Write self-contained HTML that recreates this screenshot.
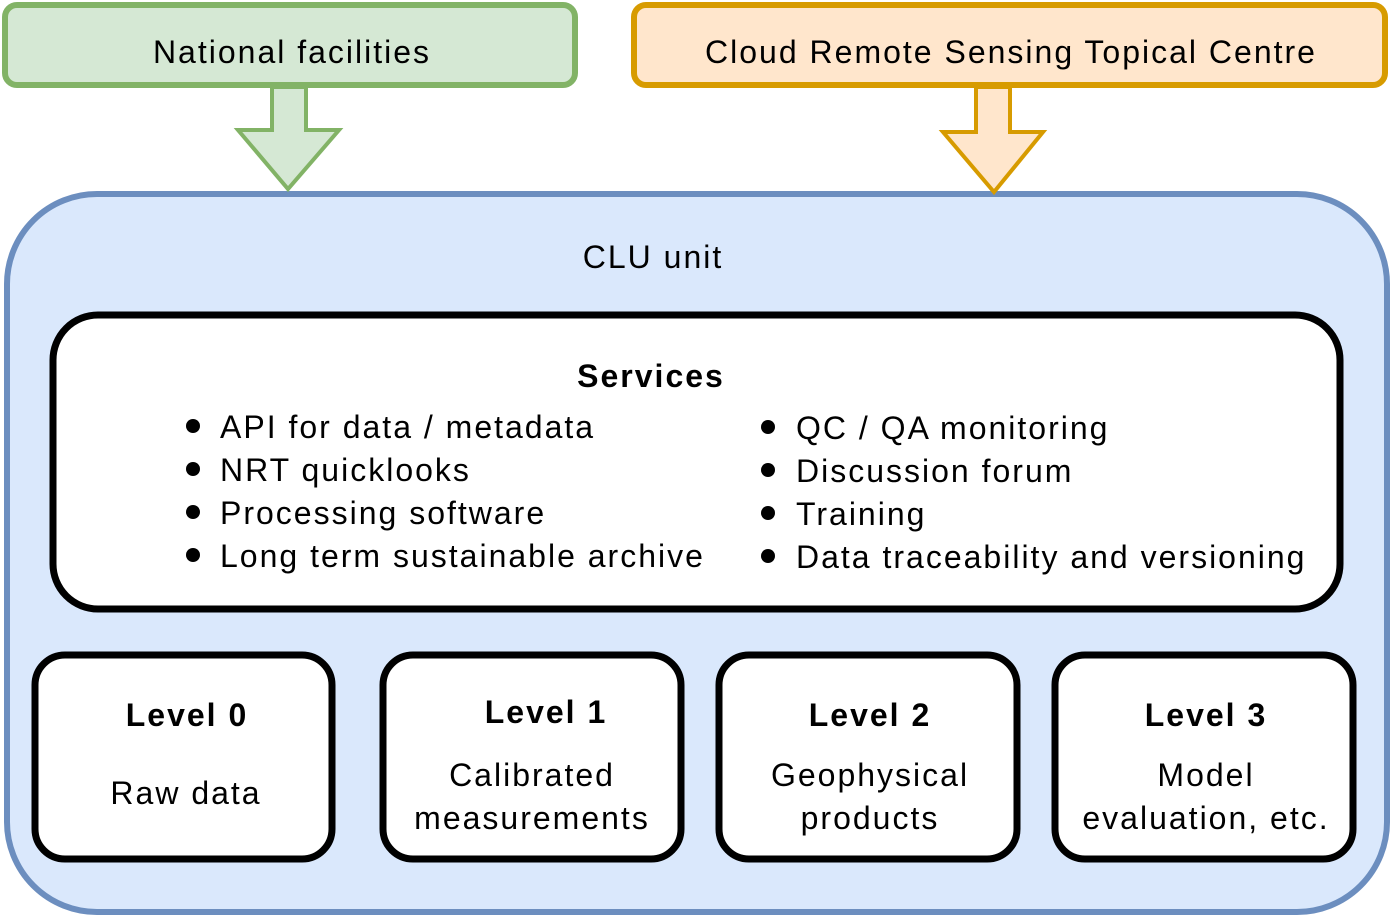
<!DOCTYPE html>
<html><head><meta charset="utf-8"><style>
html,body{margin:0;padding:0;background:#fff;}
svg{display:block;}
text{font-family:"Liberation Sans",Arial,sans-serif;font-size:32px;fill:#000;letter-spacing:2px;}
.b{font-weight:bold;}
</style></head><body>
<svg width="1392" height="918" viewBox="0 0 1392 918" xmlns="http://www.w3.org/2000/svg">
<rect x="5" y="5" width="570" height="80" rx="12" fill="#d5e8d4" stroke="#82b366" stroke-width="6"/>
<text x="292" y="63" text-anchor="middle">National facilities</text>
<rect x="634" y="5" width="751" height="80" rx="12" fill="#ffe6cc" stroke="#d79b00" stroke-width="6"/>
<text x="1011" y="63" text-anchor="middle">Cloud Remote Sensing Topical Centre</text>
<rect x="7" y="194" width="1380" height="718" rx="90" fill="#dae8fc" stroke="#6c8ebf" stroke-width="6"/>
<polygon points="272,87 306,87 306,130 339,130 288,189 238,130 272,130" fill="#d5e8d4" stroke="#82b366" stroke-width="4" stroke-linejoin="miter"/>
<polygon points="976,87 1010,87 1010,132 1043,132 994,192 943,132 976,132" fill="#ffe6cc" stroke="#d79b00" stroke-width="4"/>
<text x="653" y="268" text-anchor="middle">CLU unit</text>
<rect x="53" y="315" width="1287" height="294" rx="45" fill="#fff" stroke="#000" stroke-width="7"/>
<text x="651" y="387" text-anchor="middle" class="b">Services</text>
<g>
<circle cx="193" cy="426" r="7"/><text x="220" y="438">API for data / metadata</text>
<circle cx="193" cy="469" r="7"/><text x="220" y="481">NRT quicklooks</text>
<circle cx="193" cy="512" r="7"/><text x="220" y="524">Processing software</text>
<circle cx="193" cy="555" r="7"/><text x="220" y="567">Long term sustainable archive</text>
<circle cx="768" cy="427" r="7"/><text x="796" y="439">QC / QA monitoring</text>
<circle cx="768" cy="470" r="7"/><text x="796" y="482">Discussion forum</text>
<circle cx="768" cy="513" r="7"/><text x="796" y="525">Training</text>
<circle cx="768" cy="556" r="7"/><text x="796" y="568">Data traceability and versioning</text>
</g>
<rect x="35" y="655" width="297" height="204" rx="30" fill="#fff" stroke="#000" stroke-width="7"/>
<text x="187" y="726" text-anchor="middle" class="b">Level 0</text>
<text x="186" y="804" text-anchor="middle">Raw data</text>
<rect x="383" y="655" width="298" height="204" rx="30" fill="#fff" stroke="#000" stroke-width="7"/>
<text x="546" y="723" text-anchor="middle" class="b">Level 1</text>
<text x="532" y="786" text-anchor="middle">Calibrated</text>
<text x="532" y="829" text-anchor="middle">measurements</text>
<rect x="719" y="655" width="298" height="204" rx="30" fill="#fff" stroke="#000" stroke-width="7"/>
<text x="870" y="726" text-anchor="middle" class="b">Level 2</text>
<text x="870" y="786" text-anchor="middle">Geophysical</text>
<text x="870" y="829" text-anchor="middle">products</text>
<rect x="1055" y="655" width="298" height="204" rx="30" fill="#fff" stroke="#000" stroke-width="7"/>
<text x="1206" y="726" text-anchor="middle" class="b">Level 3</text>
<text x="1206" y="786" text-anchor="middle">Model</text>
<text x="1206" y="829" text-anchor="middle">evaluation, etc.</text>
</svg>
</body></html>
